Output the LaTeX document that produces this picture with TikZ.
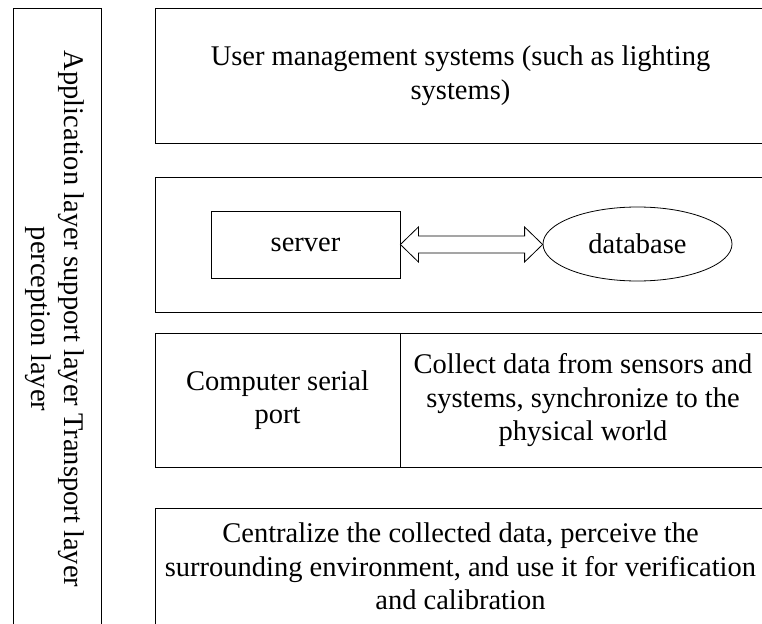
\documentclass[tikz,border=0pt]{standalone}
\usepackage{fontspec}
\setmainfont{Liberation Serif}
\usetikzlibrary{shapes.geometric,calc}
\newcommand\diafont{\fontsize{28.5}{33.5}\selectfont}
\tikzset{
  layerbox/.style={draw=black, line width=0.8pt, rectangle, inner sep=0pt, align=center, font=\diafont},
  ovalbox/.style={draw=black, line width=0.8pt, ellipse, inner sep=0pt, align=center, font=\diafont},
  sidetext/.style={inner sep=0pt, align=center, font=\diafont, rotate=-90},
  bigarrow/.style={draw=black, line width=0.8pt, fill=white, line join=miter}
}
\begin{document}
\begin{tikzpicture}[x=1pt, y=-1pt]
\useasboundingbox (0,0) rectangle (762,623);
\clip (0,0) rectangle (762,623);
% left layer column
\node[layerbox, minimum width=88pt, minimum height=632pt] (side) at (57,324) {};
\node[sidetext] (sidelabel) at (55,319) {Application layer support layer Transport layer\\perception layer};
% application layer
\node[layerbox, minimum width=611pt, minimum height=135pt] (app) at (460.5,75.5)
  {User management systems (such as lighting\\systems)};
% support layer
\node[layerbox, minimum width=611pt, minimum height=135.5pt] (support) at (460.5,244.75) {};
\node[layerbox, minimum width=189pt, minimum height=67pt] (server) at (305.5,244.5) {server};
\node[ovalbox, minimum width=189pt, minimum height=74pt] (db) at (637.5,244) {database};
% transport layer
\node[layerbox, minimum width=245pt, minimum height=134.5pt] (serial) at (277.5,400.25)
  {Computer serial\\port};
\node[layerbox, minimum width=366pt, minimum height=134.5pt] (collect) at (583,400.25)
  {Collect data from sensors and\\systems, synchronize to the\\physical world};
% perception layer
\node[layerbox, minimum width=611pt, minimum height=117pt] (percept) at (460.5,566.5)
  {Centralize the collected data, perceive the\\surrounding environment, and use it for verification\\and calibration};
% double arrow server <-> database
\draw[bigarrow] let \p1=(server.east), \p2=(db.west) in
  (\x1,\y1) -- (\x1+18pt,\y1+17.5pt) -- (\x1+18pt,\y1+8.5pt)
  -- (\x2-18pt,\y1+8.5pt) -- (\x2-18pt,\y1+17.5pt) -- (\x2,\y1)
  -- (\x2-18pt,\y1-17.5pt) -- (\x2-18pt,\y1-8.5pt)
  -- (\x1+18pt,\y1-8.5pt) -- (\x1+18pt,\y1-17.5pt) -- cycle;
\end{tikzpicture}
\end{document}
